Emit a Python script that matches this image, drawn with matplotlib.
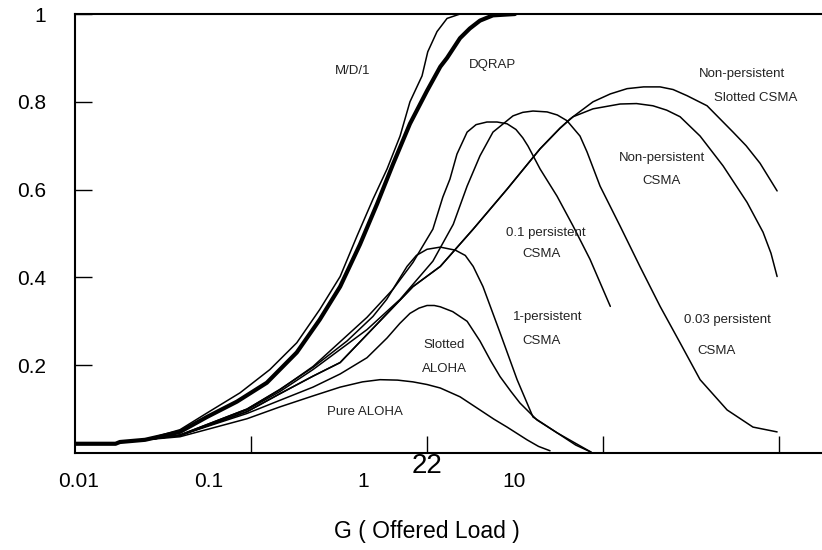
import matplotlib.pyplot as plt
from matplotlib.transforms import blended_transform_factory

plt.rcParams['font.family'] = ['Liberation Sans', 'DejaVu Sans']

# Shared start of every curve (very low offered load)
lead_g = [0.01, 0.017, 0.018, 0.025]
lead_s = [0.021, 0.021, 0.025, 0.030]

# M/D/1
md1_g = [0.0395, 0.0562, 0.0866, 0.128, 0.182, 0.246, 0.321, 0.400, 0.493,
         0.593, 0.703, 0.800, 0.937, 1.01, 1.14, 1.30, 1.54]
md1_s = [0.053, 0.091, 0.137, 0.190, 0.251, 0.327, 0.402, 0.494, 0.578,
         0.647, 0.722, 0.800, 0.859, 0.914, 0.960, 0.990, 1.0]

# DQRAP (thick line)
dqrap_g = [0.0395, 0.0562, 0.0832, 0.123, 0.182, 0.246, 0.321, 0.416, 0.520,
           0.641, 0.800, 1.0, 1.19, 1.30, 1.54, 1.75, 2.0, 2.37, 3.16]
dqrap_s = [0.048, 0.082, 0.117, 0.160, 0.229, 0.304, 0.379, 0.475, 0.567,
           0.658, 0.750, 0.825, 0.880, 0.900, 0.945, 0.967, 0.985, 0.997,
           1.0]

# Pure ALOHA
paloha_g = [0.0395, 0.0949, 0.146, 0.225, 0.321, 0.43, 0.541, 0.68, 0.832,
            1.0, 1.19, 1.54, 2.0, 2.4, 2.85, 3.70, 4.3, 5.0]
paloha_s = [0.037, 0.078, 0.105, 0.130, 0.150, 0.162, 0.167, 0.166, 0.162,
            0.156, 0.148, 0.128, 0.098, 0.077, 0.059, 0.030, 0.015, 0.005]

# Slotted ALOHA
saloha_g = [0.0395, 0.0949, 0.146, 0.225, 0.321, 0.456, 0.593, 0.70, 0.80,
            0.90, 1.0, 1.10, 1.19, 1.40, 1.69, 2.0, 2.3, 2.60, 3.0, 3.37,
            4.22, 5.48, 7.0, 8.55]
saloha_s = [0.040, 0.090, 0.120, 0.150, 0.180, 0.217, 0.262, 0.295, 0.318,
            0.330, 0.336, 0.336, 0.333, 0.322, 0.300, 0.255, 0.210, 0.174,
            0.140, 0.114, 0.075, 0.046, 0.018, 0.002]

# 1-persistent CSMA
p1_g = [0.0395, 0.0949, 0.146, 0.225, 0.351, 0.493, 0.59, 0.68, 0.77, 0.87,
        1.0, 1.19, 1.45, 1.65, 1.83, 2.08, 2.60, 3.25, 4.0, 5.48, 8.55]
p1_s = [0.041, 0.100, 0.145, 0.195, 0.255, 0.311, 0.350, 0.390, 0.425, 0.450,
        0.464, 0.469, 0.462, 0.450, 0.425, 0.379, 0.274, 0.167, 0.082, 0.046,
        0.002]

# 0.1 persistent CSMA
p01_g = [0.0395, 0.0949, 0.146, 0.225, 0.456, 0.641, 0.832, 1.08, 1.23, 1.35,
         1.48, 1.69, 1.90, 2.19, 2.50, 2.85, 3.20, 3.50, 3.75, 4.39, 5.48,
         6.76, 8.44, 11.0]
p01_s = [0.041, 0.100, 0.144, 0.197, 0.309, 0.373, 0.434, 0.510, 0.583, 0.624,
         0.681, 0.731, 0.748, 0.754, 0.754, 0.750, 0.737, 0.718, 0.699, 0.647,
         0.585, 0.517, 0.441, 0.334]

# 0.03 persistent CSMA
p003_g = [0.0395, 0.0949, 0.146, 0.225, 0.456, 0.703, 1.08, 1.41, 1.69, 2.0,
          2.37, 3.08, 3.5, 4.0, 4.81, 5.5, 6.24, 7.40, 8.11, 9.62, 12.5, 16.2,
          21.1, 27.4, 35.6, 50.7, 71.1, 97.5]
p003_s = [0.040, 0.098, 0.140, 0.190, 0.281, 0.350, 0.437, 0.521, 0.608, 0.677,
          0.731, 0.768, 0.776, 0.779, 0.777, 0.770, 0.757, 0.722, 0.686, 0.608,
          0.517, 0.425, 0.334, 0.251, 0.167, 0.098, 0.059, 0.048]

# Non-persistent CSMA, rising part shared by both variants
np_g = [0.0395, 0.0949, 0.146, 0.225, 0.321, 0.832, 1.19, 1.83, 2.85, 4.39,
        5.70]
np_s = [0.040, 0.094, 0.135, 0.175, 0.206, 0.379, 0.425, 0.510, 0.601, 0.693,
        0.740]

# Non-persistent slotted CSMA (tail)
npsl_g = [6.50, 8.77, 11.0, 13.7, 17.0, 21.1, 25.0, 30.0, 39.0, 54.8, 65.0,
          78.0, 97.5]
npsl_s = [0.761, 0.800, 0.818, 0.830, 0.834, 0.834, 0.828, 0.814, 0.791,
          0.731, 0.700, 0.660, 0.597]

# Non-persistent CSMA (tail)
npc_g = [6.76, 8.77, 12.5, 15.5, 19.2, 23.0, 27.4, 35.6, 48.1, 65.8, 81.1,
         90.0, 97.5]
npc_s = [0.766, 0.784, 0.795, 0.796, 0.791, 0.781, 0.766, 0.722, 0.654, 0.571,
         0.503, 0.455, 0.402]

# Axis text
y_ticks = [0.2, 0.4, 0.6, 0.8, 1.0]
y_labels = ['0.2', '0.4', '0.6', '0.8', '1']
x_ticks = [0.1, 1, 10, 100]
x_label_pos = [0.0105, 0.0577, 0.433, 3.12]
x_labels = ['0.01', '0.1', '1', '10']

# Curve labels: (G, S, text)
curve_labels = [
    (0.38, 0.871, 'M/D/1'),
    (2.37, 0.885, 'DQRAP'),
    (61.7, 0.864, 'Non-persistent'),
    (74.0, 0.809, 'Slotted CSMA'),
    (21.6, 0.672, 'Non-persistent'),
    (21.4, 0.619, 'CSMA'),
    (4.74, 0.501, '0.1 persistent'),
    (4.50, 0.453, 'CSMA'),
    (4.88, 0.309, '1-persistent'),
    (4.50, 0.254, 'CSMA'),
    (1.25, 0.247, 'Slotted'),
    (1.25, 0.192, 'ALOHA'),
    (0.444, 0.094, 'Pure ALOHA'),
    (50.7, 0.302, '0.03 persistent'),
    (43.9, 0.233, 'CSMA'),
]

fig = plt.figure(figsize=(8.22, 5.5), dpi=100)
ax = fig.add_axes([0.0912, 0.1764, 0.9088, 0.7981])

thin = 1.1
curves = [
    (md1_g, md1_s, thin),
    (paloha_g, paloha_s, thin),
    (saloha_g, saloha_s, thin),
    (p1_g, p1_s, thin),
    (p01_g, p01_s, thin),
    (p003_g, p003_s, thin),
    (np_g + npsl_g, np_s + npsl_s, thin),
    (np_g + npc_g, np_s + npc_s, thin),
    (dqrap_g, dqrap_s, 3.0),
]
for g, s, lw in curves:
    ax.plot(lead_g + g, lead_s + s, color='black', linewidth=lw,
            solid_capstyle='round', solid_joinstyle='round')

for g, s, txt in curve_labels:
    ax.text(g, s, txt, fontsize=9.5, ha='center', va='center',
            color='#222222')

ax.set_xscale('log')
ax.set_xlim(0.01, 175.4)
ax.set_ylim(0, 1)

# Spines: left, top and bottom only
ax.spines['right'].set_visible(False)
for side in ['left', 'top', 'bottom']:
    ax.spines[side].set_linewidth(1.5)

# Ticks point inwards, x tick labels sit offset from the tick marks
ax.set_yticks(y_ticks, labels=y_labels)
ax.tick_params(axis='y', direction='in', length=12, width=1.0, pad=21,
               labelsize=15)
ax.set_xticks(x_ticks, labels=['', '', '', ''])
ax.set_xticks(x_label_pos, labels=x_labels, minor=True)
ax.tick_params(axis='x', which='major', direction='in', length=12,
               width=1.0)
ax.tick_params(axis='x', which='minor', length=0, pad=14, labelsize=15)

ax.set_xlabel('G ( Offered Load )', fontsize=16.5)
ax.xaxis.set_label_coords(0.471, -0.152)

# Page number left on the scanned figure
trans = blended_transform_factory(ax.transData, ax.transAxes)
ax.text(1.0, 0.0, '22', transform=trans, fontsize=20, ha='center',
        va='top')

fig.savefig('out.png', dpi=100)
